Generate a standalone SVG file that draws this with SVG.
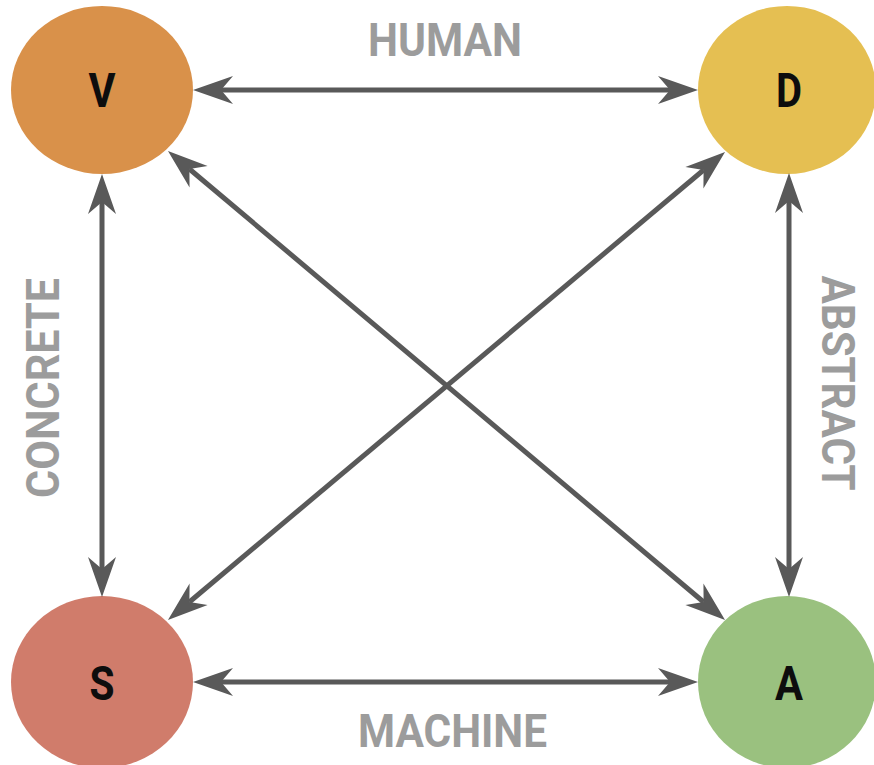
<svg xmlns="http://www.w3.org/2000/svg" width="874" height="765" viewBox="0 0 874 765">
<style>
.edge{stroke:#595959;stroke-width:5;fill:none;marker-start:url(#ah);marker-end:url(#ah)}
.lbl{font-family:Roboto,"Liberation Sans",sans-serif;font-weight:700;fill:#9c9c9c;font-size:47px;text-anchor:middle}
.nl{font-family:Roboto,"Liberation Sans",sans-serif;font-weight:700;fill:#0d0d0d;font-size:48px;text-anchor:middle}
</style>
<defs>
<marker id="ah" markerUnits="userSpaceOnUse" viewBox="0 0 44 32" markerWidth="44" markerHeight="32" refX="14" refY="16" orient="auto-start-reverse">
<path d="M42,16 L2,2 L14,16 L2,30 Z" fill="#595959"/>
</marker>
</defs>
<rect width="874" height="765" fill="#fff"/>
<g id="nodeV"><ellipse cx="102" cy="90" rx="91" ry="84" fill="#D9914A"/><text class="nl" x="102" y="107" textLength="27" lengthAdjust="spacingAndGlyphs">V</text></g>
<g id="nodeD"><ellipse cx="787" cy="90" rx="89" ry="84" fill="#E5BF52"/><text class="nl" x="789" y="107" textLength="26" lengthAdjust="spacingAndGlyphs">D</text></g>
<g id="nodeS"><ellipse cx="102" cy="682" rx="91" ry="86" fill="#D07C6B"/><text class="nl" x="102" y="700" textLength="25" lengthAdjust="spacingAndGlyphs">S</text></g>
<g id="nodeA"><ellipse cx="787" cy="682" rx="89" ry="86" fill="#9AC17F"/><text class="nl" x="789" y="700" textLength="28" lengthAdjust="spacingAndGlyphs">A</text></g>
<g id="connectors">
<line class="edge" x1="221" y1="90" x2="670" y2="90"/>
<line class="edge" x1="221" y1="682" x2="670" y2="682"/>
<line class="edge" x1="102" y1="202" x2="102" y2="569"/>
<line class="edge" x1="789" y1="201" x2="789" y2="569"/>
<line class="edge" x1="189.4" y1="169" x2="703.6" y2="602"/>
<line class="edge" x1="703.6" y1="170" x2="189.4" y2="602"/>
</g>
<g id="labels">
<text class="lbl" x="445" y="56" textLength="154" lengthAdjust="spacingAndGlyphs">HUMAN</text>
<text class="lbl" x="452.5" y="747" textLength="189" lengthAdjust="spacingAndGlyphs">MACHINE</text>
<text class="lbl" transform="translate(59,388) rotate(-90)" x="0" y="0" textLength="220" lengthAdjust="spacingAndGlyphs">CONCRETE</text>
<text class="lbl" transform="translate(822,383) rotate(90)" x="0" y="0" textLength="215" lengthAdjust="spacingAndGlyphs">ABSTRACT</text>
</g>
</svg>
